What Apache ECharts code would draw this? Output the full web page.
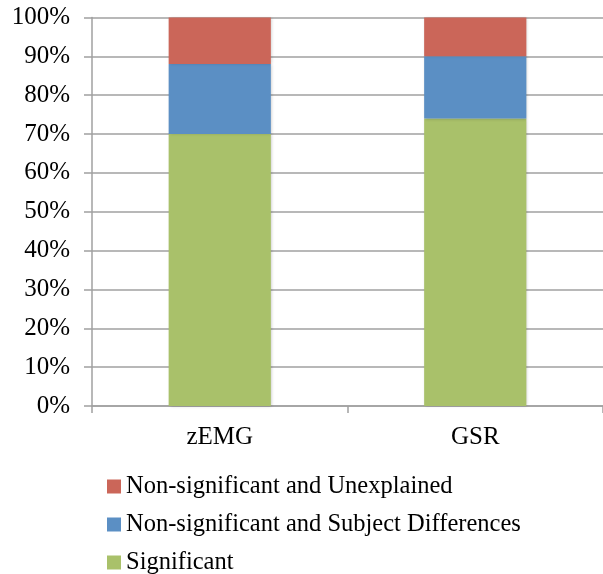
<!DOCTYPE html>
<html>
<head>
<meta charset="utf-8">
<script src="https://cdn.jsdelivr.net/npm/echarts@6/dist/echarts.min.js"></script>
<style>
  html, body { margin: 0; padding: 0; background: #fff; }
  #chart { width: 603px; height: 574px; }
</style>
</head>
<body>
<div id="chart"></div>
<script>
// Measures compared
var categories = ['zEMG', 'GSR'];

// Share of responses (%) per outcome, stacked bottom to top
var significant = [70, 74];
var subjectDifferences = [18, 16];
var unexplained = [12, 10];

// Legend lists the top of the stack first
var legendOrder = [
  'Non-significant and Unexplained',
  'Non-significant and Subject Differences',
  'Significant'
];

var FONT = '"Liberation Serif", "Times New Roman", serif';
var AXIS_GRAY = '#a0a0a0';
var FONT_SIZE = 25;

var chart = echarts.init(document.getElementById('chart'), null, { renderer: 'canvas' });

var barShadow = {
  shadowColor: 'rgba(0,0,0,0.22)',
  shadowBlur: 3,
  shadowOffsetX: 1,
  shadowOffsetY: 0
};

function series(name, data, color) {
  return {
    name: name,
    type: 'bar',
    stack: 'total',
    barWidth: '40%',
    data: data,
    itemStyle: Object.assign({ color: color }, barShadow)
  };
}

chart.setOption({
  animation: false,
  backgroundColor: '#ffffff',
  textStyle: { fontFamily: FONT, color: '#000' },
  grid: { left: 92, right: -5, top: 17.5, bottom: 168, containLabel: false },
  legend: {
    orient: 'vertical',
    left: 107,
    top: 474,
    height: 130,
    padding: 0,
    itemWidth: 14,
    itemHeight: 14,
    itemGap: 13,
    icon: 'rect',
    data: legendOrder,
    textStyle: { fontFamily: FONT, fontSize: 24.5, color: '#000', lineHeight: 25 }
  },
  xAxis: {
    type: 'category',
    data: categories,
    axisLine: { show: true, lineStyle: { color: AXIS_GRAY, width: 1.5 } },
    axisTick: { show: true, length: 7, alignWithLabel: false, lineStyle: { color: AXIS_GRAY, width: 1.5 } },
    axisLabel: { fontFamily: FONT, fontSize: FONT_SIZE, color: '#000', margin: 19 },
    splitLine: { show: false }
  },
  yAxis: {
    type: 'value',
    min: 0,
    max: 100,
    interval: 10,
    axisLine: { show: true, lineStyle: { color: AXIS_GRAY, width: 1.5 } },
    axisTick: { show: true, length: 8, lineStyle: { color: AXIS_GRAY, width: 1.5 } },
    axisLabel: { fontFamily: FONT, fontSize: FONT_SIZE, color: '#000', margin: 22, formatter: '{value}%' },
    splitLine: { show: true, lineStyle: { color: AXIS_GRAY, width: 1.5 } }
  },
  series: [
    series('Significant', significant, '#a9c16a'),
    series('Non-significant and Subject Differences', subjectDifferences, '#5b8fc4'),
    series('Non-significant and Unexplained', unexplained, '#cb6659')
  ]
});
</script>
</body>
</html>
